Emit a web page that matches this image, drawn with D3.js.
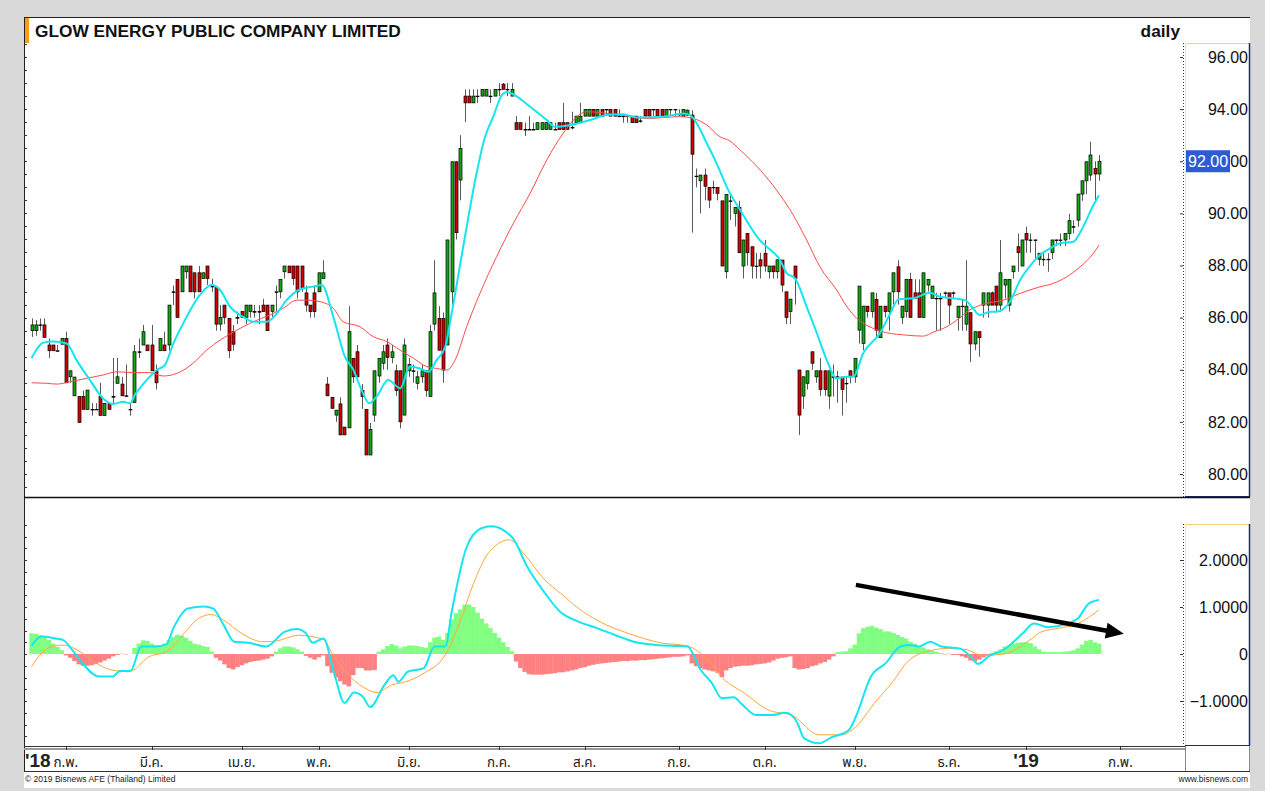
<!DOCTYPE html>
<html>
<head>
<meta charset="utf-8">
<script src="https://cdn.jsdelivr.net/npm/d3@7"></script>
<style>
  html, body { margin: 0; padding: 0; background: #d9d9d9; }
  svg { display: block; }
  text { font-family: "Liberation Sans", Arial, sans-serif; }
  .thai { font-family: Tahoma, "Noto Sans Thai", "DejaVu Sans", sans-serif; }
</style>
</head>
<body>
<svg id="chart" width="1265" height="791"></svg>
<script>
// ---- data: daily OHLC, one value per trading day (22 Jan 2018 .. 25 Jan 2019)
const opens = [
  85.5,85.5,85.72,85.72,84.95,84.95,84.73,84.98,85.2,83.73,
  83.0,82.97,82.97,82.48,82.48,82.48,82.97,82.24,82.71,82.97,
  83.48,83.45,83.0,82.48,82.74,84.69,84.95,84.95,84.95,83.96,
  84.73,84.95,84.95,86.99,87.47,86.99,87.76,87.98,87.72,87.72,
  87.5,87.98,87.2,87.16,85.75,86.48,85.97,85.46,86.0,86.23,
  86.0,86.23,86.23,86.23,86.48,86.48,86.23,86.99,86.99,87.76,
  87.98,87.98,87.98,87.98,86.95,86.48,86.95,86.99,87.5,83.45,
  82.94,82.26,82.69,81.8,81.77,84.44,84.69,83.2,82.48,80.73,
  82.26,83.76,84.25,84.95,84.47,83.96,83.96,82.26,83.96,83.96,
  83.48,83.73,83.96,82.97,85.75,85.97,85.97,84.95,86.99,91.98,
  91.28,94.5,94.5,94.24,94.5,94.5,94.5,94.5,94.5,94.76,
  94.96,94.76,94.5,93.48,93.48,93.22,93.22,93.22,93.22,93.22,
  93.22,93.22,93.22,93.48,93.48,93.48,93.3,93.48,93.48,93.73,
  93.73,93.99,93.73,93.99,93.99,93.99,93.99,93.73,93.73,93.73,
  93.73,93.73,93.55,93.99,93.99,93.99,93.99,93.99,93.73,93.99,
  93.99,93.8,93.73,93.77,93.77,91.43,91.25,91.47,91.0,91.0,
  91.0,90.48,87.76,90.48,90.0,90.23,87.98,89.23,88.72,87.98,
  88.22,88.47,87.76,87.98,87.76,88.21,86.99,86.23,87.98,83.99,
  82.99,83.48,84.69,83.73,83.96,83.96,82.99,83.73,83.73,83.72,
  83.48,83.96,83.73,85.52,85.01,86.44,86.23,86.7,85.23,86.44,
  86.23,86.99,87.95,86.01,86.23,87.47,86.95,86.95,86.01,87.25,
  86.74,86.74,86.74,86.95,86.95,86.95,86.01,86.44,85.75,86.19,
  84.99,85.46,86.48,86.48,86.95,87.21,86.48,87.25,86.48,87.76,
  88.72,87.98,89.23,88.98,88.98,88.24,88.24,88.24,88.49,88.98,
  88.98,88.98,89.23,89.49,89.74,90.74,91.25,91.47,91.73,91.51
];
const highs = [
  85.97,85.9,85.97,85.97,85.2,84.95,84.95,85.2,85.46,83.96,
  83.72,82.97,83.2,83.22,82.72,82.72,83.5,82.71,82.71,84.45,
  84.45,83.73,84.2,82.72,84.95,85.2,85.72,84.95,85.72,84.2,
  85.2,85.46,86.48,87.23,87.47,87.98,87.98,87.98,87.72,87.98,
  87.72,87.98,87.5,87.16,86.48,86.48,85.97,85.72,86.23,86.23,
  86.48,86.48,86.48,86.48,86.72,86.48,86.48,87.23,87.47,87.98,
  87.98,87.98,87.98,87.98,87.23,86.48,87.23,87.72,88.2,83.72,
  82.94,82.45,82.94,81.8,86.44,84.44,84.95,83.45,82.48,81.96,
  83.96,84.44,84.95,85.2,84.95,84.2,83.96,85.2,84.45,84.2,
  83.96,84.2,83.96,85.72,88.2,86.44,86.2,88.98,91.98,91.98,
  93.0,94.76,94.76,94.76,94.76,94.76,94.76,94.76,94.76,95.0,
  95.0,95.0,95.0,93.73,93.48,93.48,93.73,93.48,93.48,93.48,
  93.48,93.48,93.48,93.48,94.24,93.48,93.9,93.73,94.24,93.99,
  93.99,93.99,93.99,93.99,93.99,93.99,93.99,93.99,93.73,93.73,
  93.73,93.73,93.73,93.99,93.99,93.99,93.99,93.99,93.99,93.99,
  93.99,93.99,93.99,93.99,93.96,91.72,91.47,91.72,91.0,91.25,
  91.0,90.48,90.73,90.73,90.23,90.48,88.98,89.23,88.72,88.49,
  88.49,88.98,87.98,88.0,88.22,88.21,86.99,86.71,87.98,83.99,
  83.73,83.96,84.69,83.96,84.45,83.96,83.96,84.2,83.96,83.72,
  83.72,83.96,84.44,87.21,86.44,86.44,86.95,86.95,86.44,86.44,
  86.95,87.72,88.2,86.44,87.47,87.72,87.47,87.47,87.72,87.47,
  87.21,86.95,86.95,87.0,86.95,87.0,86.44,86.72,88.2,86.19,
  85.46,85.46,86.95,86.95,87.0,87.21,88.98,87.47,87.47,87.98,
  89.23,88.98,89.49,89.23,89.0,88.47,88.47,88.47,88.98,89.0,
  89.23,89.23,89.98,89.74,90.74,91.25,91.98,92.75,92.0,92.24
];
const lows = [
  85.26,85.3,85.5,85.24,84.45,84.73,84.73,84.98,83.5,83.5,
  83.0,81.98,82.48,82.48,82.24,82.48,82.25,82.24,82.48,82.72,
  83.48,83.0,82.97,82.24,82.74,84.45,84.95,84.73,83.96,83.24,
  84.73,84.73,84.73,86.48,86.01,86.99,87.5,86.99,86.74,86.99,
  87.5,87.25,86.99,85.5,85.5,85.75,84.45,84.73,85.75,86.0,
  85.75,86.0,86.0,85.75,86.23,85.5,85.97,86.23,86.74,87.5,
  87.72,87.25,86.74,86.99,86.23,86.0,86.0,86.99,87.5,83.0,
  82.52,82.0,81.5,81.5,81.77,83.5,83.73,82.5,80.73,80.73,
  82.0,83.5,84.0,84.0,84.25,83.0,81.75,82.26,83.73,83.5,
  83.24,83.5,82.97,82.97,85.5,84.75,83.5,84.95,86.5,89.0,
  90.5,93.51,94.24,94.24,94.24,94.5,94.5,94.24,94.5,94.5,
  94.76,94.5,94.5,93.22,93.22,92.97,93.22,93.22,93.22,93.22,
  93.22,93.22,93.22,93.22,93.22,93.22,93.22,93.48,93.48,93.73,
  93.73,93.73,93.73,93.73,93.73,93.73,93.73,93.73,93.48,93.48,
  93.48,93.48,93.48,93.73,93.73,93.73,93.73,93.73,93.73,93.73,
  93.73,93.73,93.73,93.73,89.26,91.0,90.0,90.5,90.2,90.75,
  90.5,87.98,87.5,89.74,89.5,88.49,87.5,88.0,87.5,87.5,
  87.5,87.76,87.5,87.5,87.5,86.99,85.75,85.75,86.5,81.5,
  82.5,83.24,84.0,83.5,83.0,83.0,82.5,82.97,82.74,82.24,
  82.74,83.48,83.5,85.0,84.75,86.0,86.0,85.23,85.23,86.0,
  85.5,86.5,86.5,85.75,86.0,86.01,86.74,86.01,86.01,87.0,
  86.74,85.5,85.5,86.74,85.75,86.74,85.5,85.5,85.5,84.3,
  84.75,84.5,86.0,86.0,86.48,86.23,86.23,86.74,86.23,87.5,
  87.76,87.98,88.49,88.49,88.24,88.0,87.98,87.76,88.24,88.74,
  88.74,88.74,89.0,89.23,89.49,90.48,90.74,91.25,90.48,91.25
];
const closes = [
  85.72,85.72,85.72,85.24,84.73,84.73,84.73,85.2,83.5,83.96,
  83.72,81.98,82.48,83.22,82.48,82.48,82.25,82.71,82.48,82.97,
  83.73,83.0,83.0,82.48,84.69,84.69,85.46,84.73,83.96,83.5,
  85.2,84.73,86.48,86.99,86.01,87.98,87.98,86.99,86.99,86.99,
  87.72,87.5,87.2,85.75,86.0,86.01,84.73,84.98,86.0,86.0,
  86.48,86.48,86.23,86.23,86.23,85.5,86.48,86.99,87.47,87.98,
  87.72,87.5,86.99,87.12,86.48,86.23,86.23,87.72,87.72,83.0,
  82.52,82.45,81.5,81.5,85.46,83.73,83.73,82.97,80.73,81.71,
  83.96,84.44,84.69,84.47,84.69,83.2,82.0,84.95,84.2,83.96,
  83.73,83.96,83.2,85.46,86.95,84.75,83.99,88.98,91.98,89.26,
  92.49,94.24,94.24,94.5,94.5,94.76,94.76,94.5,94.76,94.76,
  94.76,94.76,94.76,93.22,93.22,93.22,93.22,93.22,93.48,93.48,
  93.48,93.48,93.22,93.22,93.22,93.22,93.3,93.73,93.73,93.99,
  93.99,93.73,93.99,93.73,93.99,93.73,93.73,93.73,93.73,93.73,
  93.48,93.48,93.55,93.73,93.73,93.99,93.73,93.73,93.99,93.99,
  93.99,93.8,93.99,93.96,92.27,91.43,91.47,91.04,90.51,91.0,
  90.77,87.98,90.73,90.48,90.23,88.49,88.98,88.49,87.98,87.98,
  87.98,87.98,87.98,87.76,88.22,87.25,86.01,86.71,87.51,82.26,
  83.73,83.96,84.25,83.96,83.24,83.24,83.96,83.73,83.73,83.24,
  83.48,83.73,84.44,87.21,86.44,86.23,86.95,85.52,86.44,86.23,
  86.95,87.72,86.99,86.44,87.47,86.01,86.74,86.01,87.72,87.47,
  87.21,86.74,86.74,86.95,86.48,86.95,86.44,86.44,86.44,84.99,
  85.46,85.23,86.95,86.95,86.48,86.48,87.72,87.47,87.47,87.98,
  88.49,88.98,88.98,88.98,88.98,88.47,88.24,88.24,88.98,88.98,
  88.98,89.23,89.72,89.49,90.74,91.25,91.98,92.24,91.51,92.0
];

// moving averages: [day index, value]
const fastMA = [
  [0,84.44],[2.8,85.04],[5.1,85.08],[8.2,85.01],[10.5,84.37],[13.6,83.61],[16.7,82.9],
  [19.1,82.69],[21.4,82.77],[23,82.71],[24.1,83.03],[26.9,83.61],[29.2,83.99],[31.1,84.18],
  [33.1,85.01],[35.4,85.78],[39.3,86.87],[42,87.25],[44,87.06],[46.3,86.42],[49.4,86.03],
  [51.7,85.84],[54.9,85.84],[57.2,86.16],[59.5,86.67],[62.6,87.08],[65.7,87.19],[67.7,87.25],
  [70.4,86.03],[73.1,84.5],[75.1,83.99],[77,83.22],[78.8,82.71],[80.5,82.97],[83.2,83.61],
  [86,83.29],[88.3,84.12],[90.6,84.05],[92.6,83.92],[94.5,84.37],[96.5,84.88],[98,86.16],
  [100.7,88.72],[103.8,91.53],[105.8,92.94],[107.7,93.71],[109.7,94.54],[110.8,94.66],
  [112,94.6],[116.3,94.09],[120.2,93.58],[122.1,93.32],[125.6,93.39],[130.3,93.58],
  [134.2,93.77],[138,93.8],[141.2,93.68],[147.4,93.71],[152,93.83],[153.6,93.77],
  [155.2,93.45],[157.5,92.69],[159.8,91.92],[162.5,90.9],[165.3,90.13],[170,88.95],
  [171.5,88.72],[174.6,88.21],[176.2,87.7],[178.1,87.51],[180.8,86.42],[183.2,85.4],
  [185.5,84.37],[187.8,83.67],[190.2,83.73],[191.7,83.73],[194,84.63],[197.9,85.4],
  [200.3,86.16],[202.2,86.7],[205.7,86.74],[209.6,86.95],[211.9,86.8],[215,86.74],
  [217.8,86.67],[219.3,86.42],[221.2,86.1],[223.6,86.23],[225.1,86.23],[228.2,86.61],
  [230.6,87.44],[233.7,88.14],[235.2,88.4],[237.6,88.66],[239.9,88.85],[243,88.91],
  [245.3,89.49],[247.7,90.32],[249,90.7]
];
const slowMA = [
  [0,83.5],[3.5,83.48],[5.9,83.45],[9,83.54],[12.9,83.67],[16.7,83.8],[19.9,83.92],
  [23.7,83.89],[27.6,83.89],[30.7,83.76],[33.9,83.86],[37.7,84.25],[40.9,84.76],[44,85.14],
  [47.9,85.52],[51.7,85.84],[55.6,86.1],[58.7,86.36],[61.9,86.67],[64.2,86.67],[67.3,86.61],
  [70.4,86.36],[72.7,85.84],[76.6,85.65],[79.7,85.27],[82.9,85.08],[85.9,84.76],[89.1,84.44],
  [92.2,84.12],[94.5,84.05],[96.9,83.99],[98.8,84.37],[101.5,85.65],[104.6,86.93],
  [108.5,88.34],[112.4,89.62],[116.3,90.77],[120.2,92.05],[124,93.07],[127.2,93.71],
  [129.5,93.9],[135.7,93.81],[143.5,93.64],[151.2,93.71],[154.4,93.64],[157.5,93.39],
  [160.6,92.94],[162.9,92.78],[165.3,92.43],[170,91.66],[173.8,90.89],[177.7,89.93],
  [180.8,88.98],[183.9,87.95],[187.8,87.06],[190.2,86.42],[192.5,85.97],[196.3,85.59],
  [199.5,85.42],[204,85.33],[208,85.29],[210.4,85.45],[213.5,85.65],[215.8,85.9],
  [218.9,86.3],[222.8,86.55],[226.7,86.67],[230.6,86.93],[235.2,87.18],[238.3,87.31],
  [241.5,87.57],[244.6,87.95],[247.7,88.47],[249,88.78]
];

// MACD panel
const macdLine = [
  [0,0.18],[2.3,0.37],[5.6,0.33],[7.3,0.30],[9.8,0.05],[11.9,-0.20],[15.7,-0.48],[19,-0.48],
  [20.6,-0.36],[23.1,-0.36],[25.6,0.16],[29,0.16],[31.5,0.21],[33.1,0.55],[36.5,0.97],
  [40.2,1.01],[42.3,0.97],[44.8,0.62],[47.3,0.26],[50.6,0.24],[54.8,0.16],[59,0.47],
  [61.9,0.53],[64,0.44],[65.6,0.24],[68.1,0.33],[70.6,-0.41],[73,-1.04],[75.2,-0.82],
  [77.3,-0.91],[79,-1.13],[82.3,-0.66],[84.4,-0.45],[85.6,-0.59],[87.7,-0.38],[91.5,-0.30],
  [94,0.16],[96.5,0.16],[98.1,0.94],[101.4,2.25],[104.8,2.67],[107.3,2.72],[112.3,2.46],
  [115.6,1.86],[119.8,1.29],[123.3,0.90],[127.6,0.69],[131.9,0.55],[136.2,0.40],[140.5,0.26],
  [145.7,0.19],[153,0.16],[156.1,-0.34],[158.7,-0.62],[161,-0.94],[163.8,-0.92],[165.6,-1.06],
  [169,-1.30],[172.5,-1.30],[175.9,-1.25],[178.5,-1.44],[180.2,-1.79],[183.7,-1.90],
  [186.7,-1.77],[190.6,-1.62],[192.3,-1.33],[195.8,-0.48],[199.2,-0.20],[202.7,0.16],
  [204.8,0.19],[207,0.16],[209.6,0.26],[212.2,0.16],[216.5,0.12],[219.1,-0.06],[220.8,-0.21],
  [223.4,-0.04],[226.8,0.09],[231.2,0.44],[233.8,0.65],[237.2,0.57],[241.5,0.64],[244.1,0.76],
  [246.7,1.08],[249,1.15]
];
const signalLine = [
  [0,-0.27],[2.3,0.01],[4.8,0.16],[7.3,0.19],[10.6,0.09],[14,-0.13],[17.3,-0.30],[20.6,-0.36],
  [23.1,-0.36],[27.3,-0.06],[31.5,0.05],[35.6,0.44],[39,0.76],[41.9,0.84],[44.8,0.72],[49,0.44],
  [54,0.26],[57.3,0.28],[62.3,0.40],[66.5,0.35],[68.1,0.31],[70.6,-0.06],[74,-0.45],[77.3,-0.70],
  [80.6,-0.82],[84,-0.66],[87.3,-0.59],[91.5,-0.41],[96.5,-0.02],[99.8,0.65],[103.1,1.50],
  [106.5,2.14],[111.5,2.43],[114.8,2.14],[119.8,1.57],[123.3,1.30],[127.6,0.97],[131.9,0.72],
  [140.5,0.40],[146.6,0.24],[153,0.17],[157.8,-0.13],[161.3,-0.52],[166.4,-0.84],[171.6,-1.18],
  [177.7,-1.32],[183.7,-1.72],[188.9,-1.72],[192.3,-1.55],[196.6,-1.05],[200.9,-0.59],
  [204.4,-0.16],[209.6,0.07],[213.9,0.12],[218.2,0.09],[221.6,-0.03],[226.8,0.00],[232.9,0.30],
  [235.5,0.47],[239.8,0.55],[244.1,0.65],[249,0.94]
];
const histogram = [
  0.44,0.43,0.40,0.37,0.30,0.22,0.15,0.08,-0.03,-0.08,
  -0.15,-0.22,-0.25,-0.25,-0.24,-0.21,-0.18,-0.14,-0.10,-0.05,
  -0.02,0.01,-0.01,0.0,0.13,0.22,0.29,0.28,0.22,0.18,
  0.16,0.22,0.30,0.36,0.41,0.39,0.35,0.28,0.22,0.20,
  0.17,0.15,0.05,-0.08,-0.14,-0.22,-0.30,-0.33,-0.28,-0.24,
  -0.20,-0.17,-0.15,-0.14,-0.12,-0.10,-0.05,0.05,0.12,0.16,
  0.16,0.14,0.10,0.05,-0.04,-0.08,-0.12,-0.07,-0.03,-0.26,
  -0.40,-0.50,-0.58,-0.65,-0.69,-0.45,-0.30,-0.30,-0.35,-0.35,
  -0.34,0.05,0.10,0.17,0.21,0.18,0.12,0.16,0.18,0.18,
  0.17,0.15,0.13,0.25,0.35,0.37,0.30,0.45,0.74,0.87,
  0.95,1.05,1.05,1.00,0.88,0.75,0.65,0.55,0.45,0.35,
  0.25,0.15,0.06,-0.16,-0.30,-0.38,-0.43,-0.44,-0.44,-0.44,
  -0.43,-0.42,-0.41,-0.39,-0.39,-0.37,-0.35,-0.33,-0.30,-0.28,
  -0.25,-0.23,-0.21,-0.20,-0.19,-0.18,-0.17,-0.16,-0.15,-0.15,
  -0.14,-0.14,-0.13,-0.13,-0.12,-0.11,-0.10,-0.09,-0.08,-0.07,
  -0.06,-0.06,-0.05,-0.03,-0.20,-0.26,-0.30,-0.33,-0.35,-0.37,
  -0.40,-0.49,-0.35,-0.30,-0.27,-0.26,-0.25,-0.25,-0.24,-0.22,
  -0.21,-0.20,-0.18,-0.14,-0.10,-0.08,-0.07,-0.05,-0.30,-0.33,
  -0.32,-0.30,-0.26,-0.24,-0.20,-0.17,-0.12,-0.05,0.04,0.05,
  0.06,0.12,0.20,0.44,0.55,0.58,0.60,0.56,0.53,0.48,
  0.48,0.45,0.41,0.36,0.33,0.26,0.22,0.17,0.14,0.10,
  0.07,0.05,0.02,-0.01,0.01,-0.02,-0.02,-0.05,-0.08,-0.14,
  -0.16,-0.12,-0.07,-0.03,0.02,0.06,0.10,0.16,0.18,0.22,
  0.24,0.25,0.25,0.23,0.16,0.10,0.05,0.04,0.04,0.04,
  0.04,0.05,0.06,0.08,0.12,0.20,0.28,0.30,0.25,0.22
];

const priceTicks = [80, 82, 84, 86, 88, 90, 92, 94, 96];
const macdTicks = [-1, 0, 1, 2];
const monthIdx = [8, 28, 49, 67, 88, 109, 129, 151, 171, 192, 214, 232, 254];
const monthLabels = ["ก.พ.", "มี.ค.", "เม.ย.", "พ.ค.", "มิ.ย.", "ก.ค.", "ส.ค.", "ก.ย.", "ต.ค.", "พ.ย.", "ธ.ค.", "'19", "ก.พ."];
const lastPrice = 92.00;
const trendArrow = [[192.3, 1.47], [254.8, 0.43]];

// ---- layout
const svg = d3.select("#chart");
const L = 24, R = 1250, plotR = 1183;
const priceTop = 43, priceBot = 497, macdTop = 524, macdBot = 746, axisBot = 771;

const x = d3.scaleLinear().domain([0, 249]).range([31.5, 1099]);
const y = d3.scaleLinear().domain([80, 96]).range([474, 57]);
const ym = d3.scaleLinear().domain([-1, 2]).range([701, 560]);
const step = x(1) - x(0);

svg.append("rect").attr("width", 1265).attr("height", 791).attr("fill", "#d9d9d9");
svg.append("rect").attr("x", L).attr("y", 17).attr("width", R - L).attr("height", 771).attr("fill", "#fff");
svg.append("line").attr("x1", L).attr("x2", R).attr("y1", 17.5).attr("y2", 17.5).attr("stroke", "#222");
svg.append("line").attr("x1", L + 0.5).attr("x2", L + 0.5).attr("y1", 17).attr("y2", axisBot).attr("stroke", "#222");
svg.append("rect").attr("x", L + 1).attr("y", 18).attr("width", 4).attr("height", 25).attr("fill", "#ff9a1a");

svg.append("text").attr("x", 35).attr("y", 37)
  .attr("font-size", 17.3).attr("font-weight", "bold").attr("fill", "#111")
  .text("GLOW ENERGY PUBLIC COMPANY LIMITED");
svg.append("text").attr("x", 1180).attr("y", 37).attr("text-anchor", "end")
  .attr("font-size", 17.3).attr("font-weight", "bold").attr("fill", "#111")
  .text("daily");

// clip paths
const defs = svg.append("defs");
defs.append("clipPath").attr("id", "clipP").append("rect")
  .attr("x", L + 1).attr("y", priceTop).attr("width", plotR - L - 1).attr("height", priceBot - priceTop);
defs.append("clipPath").attr("id", "clipM").append("rect")
  .attr("x", L + 1).attr("y", macdTop).attr("width", plotR - L - 1).attr("height", macdBot - macdTop);

// ---- right axis boxes
function axisBox(top, bot) {
  svg.append("line").attr("x1", plotR + 2).attr("x2", R).attr("y1", top + 0.5).attr("y2", top + 0.5)
    .attr("stroke", "#f2d27a");
  svg.append("line").attr("x1", plotR + 2.5).attr("x2", plotR + 2.5).attr("y1", top).attr("y2", bot)
    .attr("stroke", "#f5e2a8");
  svg.append("line").attr("x1", plotR + 0.5).attr("x2", plotR + 0.5).attr("y1", top).attr("y2", bot)
    .attr("stroke", "#333").attr("stroke-dasharray", "1,2");
  svg.append("line").attr("x1", R - 0.5).attr("x2", R - 0.5).attr("y1", top).attr("y2", bot)
    .attr("stroke", "#1c2a6e").attr("stroke-width", 1.5);
  svg.append("line").attr("x1", plotR + 2).attr("x2", R).attr("y1", bot - 0.5).attr("y2", bot - 0.5)
    .attr("stroke", "#1c2a6e");
}
axisBox(priceTop, priceBot);
axisBox(macdTop, macdBot);

// left-edge ruler ticks
const leftTicksP = d3.range(79.5, 96.6, 0.5);
svg.append("g").selectAll("line").data(leftTicksP).join("line")
  .attr("x1", L).attr("x2", L + 3).attr("y1", d => Math.round(y(d)) + 0.5).attr("y2", d => Math.round(y(d)) + 0.5)
  .attr("stroke", "#333");
const leftTicksM = d3.range(-1.75, 2.8, 0.25);
svg.append("g").selectAll("line").data(leftTicksM).join("line")
  .attr("x1", L).attr("x2", L + 3).attr("y1", d => Math.round(ym(d)) + 0.5).attr("y2", d => Math.round(ym(d)) + 0.5)
  .attr("stroke", "#333");

// price axis
const pAxis = svg.append("g").attr("transform", `translate(${plotR},0)`)
  .call(d3.axisRight(y).tickValues(priceTicks).tickSize(3).tickFormat(d3.format(".2f")));
pAxis.select(".domain").remove();
pAxis.selectAll(".tick line").attr("x1", -3).attr("x2", 0).attr("stroke", "#333");
pAxis.selectAll(".tick text").attr("x", R - plotR - 2).attr("text-anchor", "end")
  .attr("font-size", 16).attr("font-family", "'Liberation Sans', Arial, sans-serif").attr("fill", "#111");

const mAxis = svg.append("g").attr("transform", `translate(${plotR},0)`)
  .call(d3.axisRight(ym).tickValues(macdTicks).tickSize(3).tickFormat(d => d === 0 ? "0" : d3.format(".4f")(d)));
mAxis.select(".domain").remove();
mAxis.selectAll(".tick line").attr("x1", -3).attr("x2", 0).attr("stroke", "#333");
mAxis.selectAll(".tick text").attr("x", R - plotR - 2).attr("text-anchor", "end")
  .attr("font-size", 16).attr("font-family", "'Liberation Sans', Arial, sans-serif").attr("fill", "#111");

// last price marker (sits over the axis label, as in the terminal)
const lp = svg.append("g").attr("transform", `translate(${plotR + 3},${y(lastPrice)})`);
lp.append("rect").attr("x", 0).attr("y", -11).attr("width", 44).attr("height", 22).attr("fill", "#2d5bd6");
lp.append("text").attr("x", 2).attr("y", 6).attr("font-size", 16).attr("fill", "#fff").text(d3.format(".2f")(lastPrice));

// separators
svg.append("line").attr("x1", L).attr("x2", R).attr("y1", priceBot + 0.5).attr("y2", priceBot + 0.5)
  .attr("stroke", "#111").attr("stroke-width", 1.5);

// ---- candles
const days = d3.range(closes.length).map(i => ({ i, o: opens[i], h: highs[i], l: lows[i], c: closes[i] }));
const pg = svg.append("g").attr("clip-path", "url(#clipP)");
pg.append("g").selectAll("line").data(days).join("line")
  .attr("x1", d => Math.round(x(d.i)) + 0.5).attr("x2", d => Math.round(x(d.i)) + 0.5)
  .attr("y1", d => y(d.h)).attr("y2", d => y(d.l))
  .attr("stroke", "#5a5a5a").attr("stroke-width", 1);
pg.append("g").selectAll("rect").data(days).join("rect")
  .attr("x", d => Math.round(x(d.i)) - 1)
  .attr("y", d => y(Math.max(d.o, d.c)))
  .attr("width", 3)
  .attr("height", d => Math.max(0.6, Math.abs(y(d.o) - y(d.c))))
  .attr("fill", d => d.c > d.o ? "#12a812" : d.c < d.o ? "#d40000" : "#000")
  .attr("stroke", "#000").attr("stroke-width", 0.7);

const line = d3.line().x(d => x(d[0])).curve(d3.curveMonotoneX);
pg.append("path").datum(slowMA).attr("fill", "none").attr("stroke", "#ff4a4a").attr("stroke-width", 1)
  .attr("d", line.y(d => y(d[1])));
pg.append("path").datum(fastMA).attr("fill", "none").attr("stroke", "#14e6f0").attr("stroke-width", 2)
  .attr("d", line.y(d => y(d[1])));

// ---- MACD
const mg = svg.append("g").attr("clip-path", "url(#clipM)");
mg.append("g").selectAll("rect").data(histogram).join("rect")
  .attr("x", (d, i) => x(i) - step / 2)
  .attr("width", step + 0.3)
  .attr("y", d => ym(Math.max(0, d)))
  .attr("height", d => Math.abs(ym(d) - ym(0)))
  .attr("fill", d => d >= 0 ? "#80ff80" : "#ff8080");
mg.append("path").datum(signalLine).attr("fill", "none").attr("stroke", "#ffa53a").attr("stroke-width", 1)
  .attr("d", d3.line().x(d => x(d[0])).y(d => ym(d[1])).curve(d3.curveMonotoneX));
mg.append("path").datum(macdLine).attr("fill", "none").attr("stroke", "#14e6f0").attr("stroke-width", 2)
  .attr("d", d3.line().x(d => x(d[0])).y(d => ym(d[1])).curve(d3.curveMonotoneX));

// trend arrow
const [a0, a1] = trendArrow.map(p => [x(p[0]), ym(p[1])]);
const ang = Math.atan2(a1[1] - a0[1], a1[0] - a0[0]);
const headL = 18, headW = 8;
const base = [a1[0] - headL * Math.cos(ang), a1[1] - headL * Math.sin(ang)];
svg.append("line").attr("x1", a0[0]).attr("y1", a0[1]).attr("x2", base[0] + 2 * Math.cos(ang)).attr("y2", base[1] + 2 * Math.sin(ang))
  .attr("stroke", "#000").attr("stroke-width", 4.5);
svg.append("path").attr("fill", "#000").attr("d", d3.line()([
  a1,
  [base[0] + headW * Math.sin(ang), base[1] - headW * Math.cos(ang)],
  [base[0] - headW * Math.sin(ang), base[1] + headW * Math.cos(ang)]
]) + "Z");

// ---- time axis
svg.append("line").attr("x1", L).attr("x2", plotR + 2).attr("y1", macdBot + 0.5).attr("y2", macdBot + 0.5).attr("stroke", "#333");
svg.append("line").attr("x1", L).attr("x2", plotR + 2).attr("y1", macdBot + 3).attr("y2", macdBot + 3).attr("stroke", "#9a9a9a").attr("stroke-width", 2);
svg.append("line").attr("x1", plotR + 2.5).attr("x2", plotR + 2.5).attr("y1", macdBot).attr("y2", axisBot).attr("stroke", "#888");
svg.append("line").attr("x1", R - 0.5).attr("x2", R - 0.5).attr("y1", macdBot).attr("y2", axisBot).attr("stroke", "#888");
svg.append("line").attr("x1", L).attr("x2", R).attr("y1", axisBot + 0.5).attr("y2", axisBot + 0.5).attr("stroke", "#333");

const months = monthIdx.map((m, k) => ({ i: m, label: monthLabels[k] }));
svg.append("g").selectAll("line").data(months).join("line")
  .attr("x1", d => Math.round(x(d.i)) + 0.5).attr("x2", d => Math.round(x(d.i)) + 0.5)
  .attr("y1", macdBot + 1).attr("y2", macdBot + 4).attr("stroke", "#333");
svg.append("g").selectAll("text").data(months).join("text")
  .attr("x", d => x(d.i)).attr("y", 767)
  .attr("text-anchor", "middle")
  .attr("class", d => d.label.startsWith("'") ? null : "thai")
  .attr("font-size", d => d.label.startsWith("'") ? 19 : 13.5)
  .attr("font-weight", d => d.label.startsWith("'") ? "bold" : null)
  .attr("fill", "#222")
  .text(d => d.label);
svg.append("text").attr("x", 25).attr("y", 767).attr("font-size", 19).attr("font-weight", "bold")
  .attr("fill", "#222").text("'18");

// footer
svg.append("text").attr("x", 25).attr("y", 782).attr("font-size", 8.5).attr("fill", "#222")
  .text("© 2019 Bisnews AFE (Thailand) Limited");
svg.append("text").attr("x", 1248).attr("y", 782).attr("text-anchor", "end").attr("font-size", 8.5).attr("fill", "#222")
  .text("www.bisnews.com");
</script>
</body>
</html>
